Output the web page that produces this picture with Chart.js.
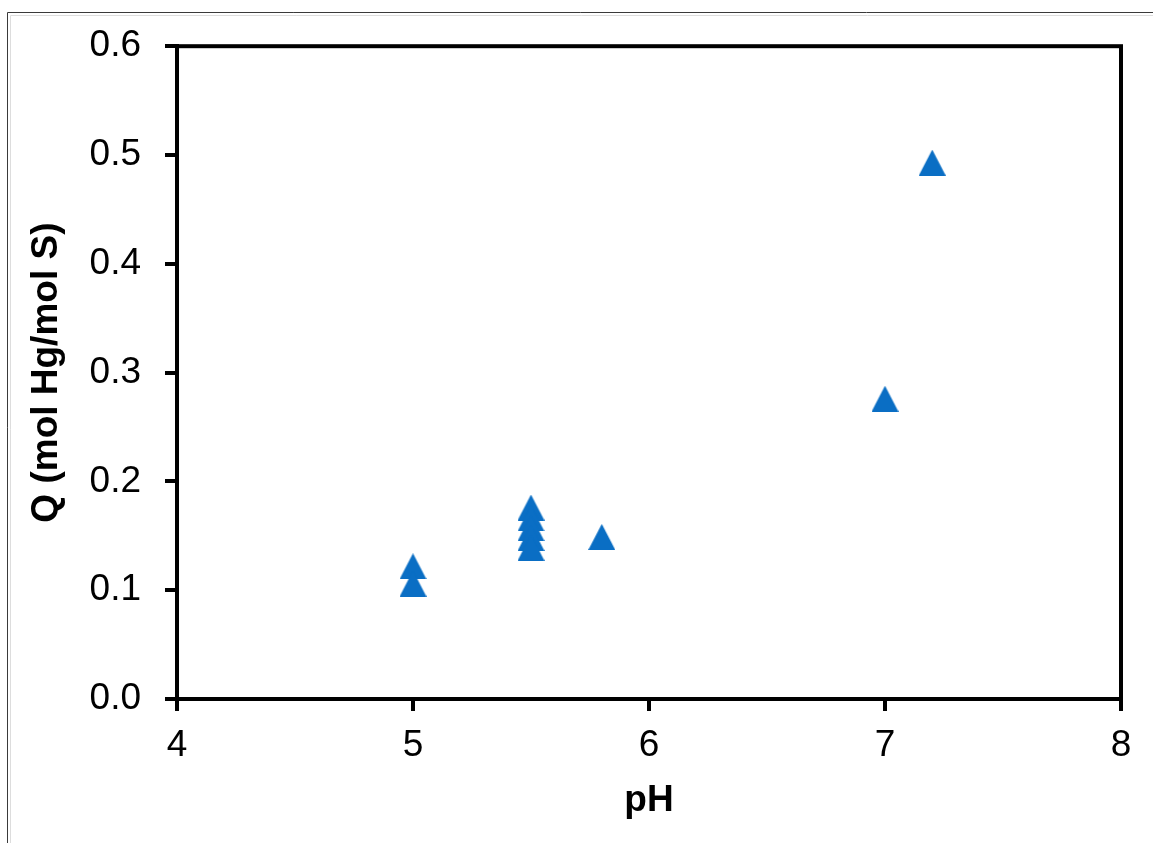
<!DOCTYPE html>
<html>
<head>
<meta charset="utf-8">
<script src="https://cdn.jsdelivr.net/npm/chart.js@4"></script>
<style>
  html, body { margin: 0; padding: 0; background: #ffffff; }
  #wrap { width: 1153px; height: 843px; position: relative; }
</style>
</head>
<body>
<div id="wrap"><canvas id="chart" width="1153" height="843"></canvas></div>
<script>
// Sorption capacity Q versus solution pH
const phValues = [5.0, 5.0, 5.5, 5.5, 5.5, 5.5, 5.5, 5.8, 7.0, 7.2];
const qValues  = [0.122, 0.106, 0.176, 0.166, 0.157, 0.148, 0.139, 0.149, 0.276, 0.493];

const xTicks = [4, 5, 6, 7, 8];
const yTicks = [0.0, 0.1, 0.2, 0.3, 0.4, 0.5, 0.6];

const xTitle = 'pH';
const yTitle = 'Q (mol Hg/mol S)';

const points = phValues.map((x, i) => ({ x: x, y: qValues[i] }));

// Filled triangle marker whose box is centred on the data point
function triangleMarker(w, h, color) {
  const c = document.createElement('canvas');
  c.width = w; c.height = h;
  const g = c.getContext('2d');
  g.fillStyle = color;
  g.beginPath();
  g.moveTo(w / 2, 0);
  g.lineTo(w, h);
  g.lineTo(0, h);
  g.closePath();
  g.fill();
  return c;
}
const marker = triangleMarker(27, 26, '#0a6ec4');

// Frame around the plotting area plus the thin page border
const framePlugin = {
  id: 'frame',
  afterDraw(chart) {
    const { ctx, chartArea: a } = chart;
    ctx.save();
    ctx.strokeStyle = '#000000';
    ctx.lineWidth = 4;
    ctx.strokeRect(a.left, a.top, a.right - a.left, a.bottom - a.top);
    ctx.strokeStyle = '#3a3a3a';
    ctx.lineWidth = 1;
    ctx.beginPath();
    ctx.moveTo(7.5, chart.height);
    ctx.lineTo(7.5, 12.5);
    ctx.lineTo(chart.width, 12.5);
    ctx.stroke();
    ctx.strokeStyle = '#dddddd';
    ctx.beginPath();
    ctx.moveTo(10.5, chart.height);
    ctx.lineTo(10.5, 15.5);
    ctx.lineTo(chart.width, 15.5);
    ctx.stroke();
    ctx.restore();
  }
};

const tickFont = { family: '"Liberation Sans", Arial, sans-serif', size: 37 };
const titleFont = { family: '"Liberation Sans", Arial, sans-serif', size: 37, weight: 'bold' };

new Chart(document.getElementById('chart'), {
  type: 'scatter',
  data: {
    datasets: [{
      data: points,
      pointStyle: marker,
      pointRadius: 13,
      pointHoverRadius: 13,
      backgroundColor: '#0a6ec4',
      borderColor: '#0a6ec4'
    }]
  },
  options: {
    responsive: false,
    animation: false,
    events: [],
    layout: { padding: { left: 0, top: 44, right: 32, bottom: 0 } },
    plugins: { legend: { display: false }, tooltip: { enabled: false } },
    scales: {
      x: {
        type: 'linear',
        min: xTicks[0],
        max: xTicks[xTicks.length - 1],
        afterBuildTicks(scale) { scale.ticks = xTicks.map(v => ({ value: v })); },
        afterFit(scale) { scale.height = 144; },
        grid: { display: true, drawOnChartArea: false, drawTicks: true, tickLength: 12, lineWidth: 4, color: '#000000' },
        border: { display: true, color: '#000000', width: 4 },
        ticks: { color: '#000000', font: tickFont, padding: 13, maxRotation: 0, callback: v => String(v) },
        title: { display: true, text: xTitle, color: '#000000', font: titleFont, padding: { top: 0, bottom: 20 } }
      },
      y: {
        type: 'linear',
        min: yTicks[0],
        max: yTicks[yTicks.length - 1],
        afterBuildTicks(scale) { scale.ticks = yTicks.map(v => ({ value: v })); },
        afterFit(scale) { scale.width = 177; },
        grid: { display: true, drawOnChartArea: false, drawTicks: true, tickLength: 12, lineWidth: 4, color: '#000000' },
        border: { display: true, color: '#000000', width: 4 },
        ticks: { color: '#000000', font: tickFont, padding: 24, callback: v => Number(v).toFixed(1) },
        title: { display: true, text: yTitle, color: '#000000', font: titleFont, padding: { top: 25, bottom: 0 } }
      }
    }
  },
  plugins: [framePlugin]
});
</script>
</body>
</html>
